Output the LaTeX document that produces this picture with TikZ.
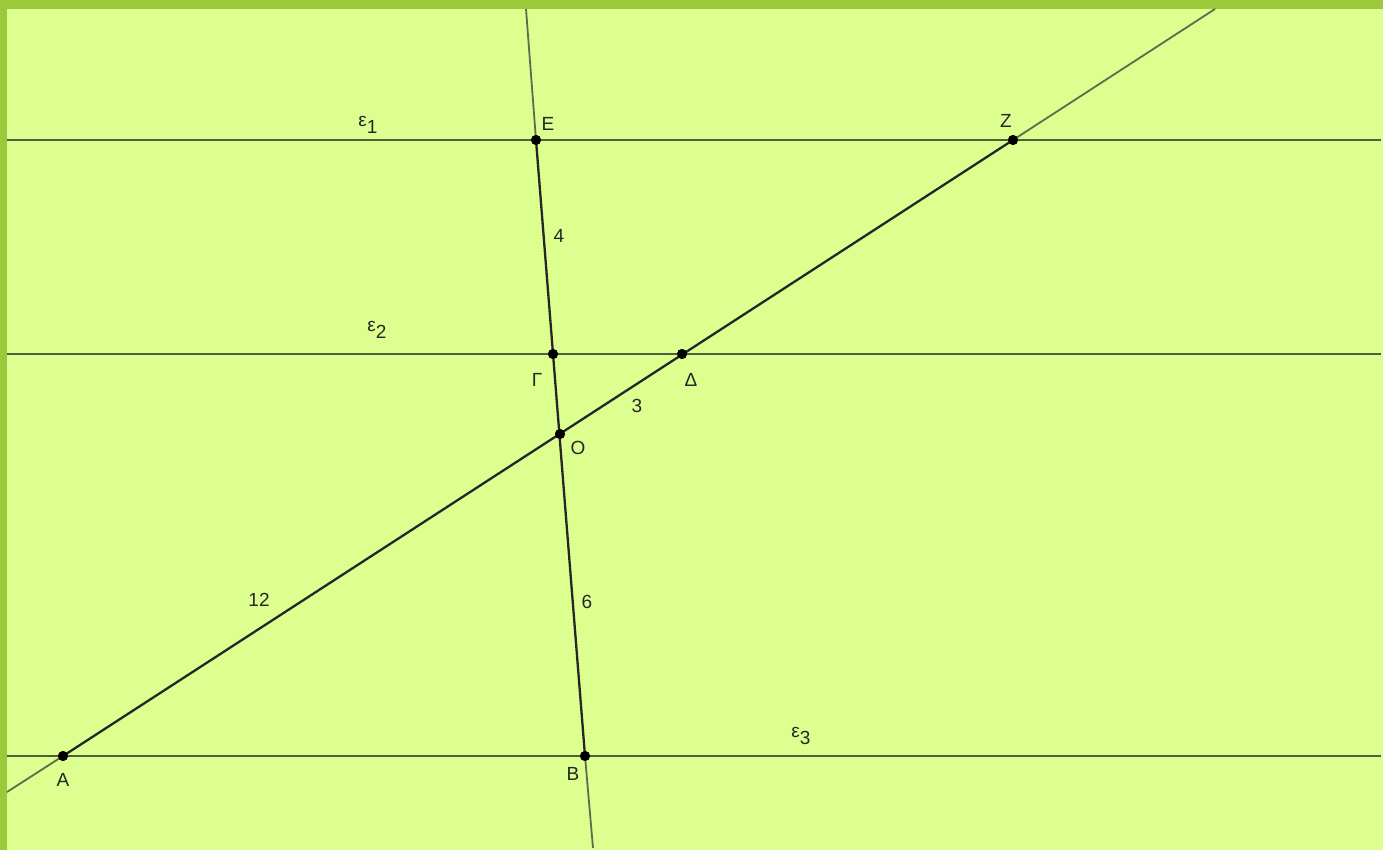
\documentclass[tikz,border=0pt]{standalone}
\usepackage{fontspec}
\setmainfont{Liberation Sans}
\definecolor{bg}{RGB}{220,255,144}
\definecolor{frame}{RGB}{154,202,60}
\definecolor{lineg}{RGB}{80,95,55}
\definecolor{extg}{RGB}{95,108,75}
\begin{document}
\begin{tikzpicture}[x=1pt,y=-1pt,
  hline/.style={draw=lineg,line width=2.4pt},
  extline/.style={draw=extg,line width=1.8pt},
  seg/.style={draw=black!85,line width=2.3pt},
  pt/.style={circle,fill=black,inner sep=0pt,minimum size=10pt},
  lbl/.style={font=\fontsize{19}{21}\selectfont,text=black!85,inner sep=0pt}]
\fill[frame] (0,0) rectangle (1383,850);
\fill[bg] (7,9) rectangle (1383,850);
\useasboundingbox (0,0) rectangle (1383,850);
% line end points
\coordinate (e1L) at (7,140);   \coordinate (e1R) at (1381,140);
\coordinate (e2L) at (7,354);   \coordinate (e2R) at (1381,354);
\coordinate (e3L) at (7,756);   \coordinate (e3R) at (1381,756);
\coordinate (tT) at (526,9);    \coordinate (tB) at (593,848);
\coordinate (dT) at (1215,9);   \coordinate (dB) at (7,792);
% points
\node[pt] (E) at (536,140) {};
\node[pt] (G) at (553,354) {};
\node[pt] (O) at (560,434) {};
\node[pt] (B) at (585,756) {};
\node[pt] (A) at (63,756) {};
\node[pt] (D) at (682,354) {};
\node[pt] (Z) at (1013,140) {};
% lines
\draw[hline] (e1L) -- (e1R);
\draw[hline] (e2L) -- (e2R);
\draw[hline] (e3L) -- (e3R);
\draw[extline] (tT) -- (E.center);
\draw[extline] (B.center) -- (tB);
\draw[extline] (dT) -- (Z.center);
\draw[extline] (A.center) -- (dB);
\draw[seg] (E.center) -- (B.center);
\draw[seg] (A.center) -- (Z.center);
% redraw points on top
\foreach \p in {E,G,O,B,A,D,Z} \fill[black] (\p) circle (5pt);
% labels
\node[lbl] (lE) at (548,124) {E};
\node[lbl] (lZ) at (1006,121) {Z};
\node[lbl] (lG) at (537,380) {Γ};
\node[lbl] (lD) at (691,380) {Δ};
\node[lbl] (lO) at (578,448) {O};
\node[lbl] (lA) at (63,780) {A};
\node[lbl] (lB) at (573,774) {B};
\node[lbl] (l4) at (559,236) {4};
\node[lbl] (l3) at (637,406) {3};
\node[lbl] (l12) at (259,600) {12};
\node[lbl] (l6) at (587,602) {6};
\node[lbl] (le1) at (368,125) {ε\raisebox{-7pt}{1}};
\node[lbl] (le2) at (377,330) {ε\raisebox{-7pt}{2}};
\node[lbl] (le3) at (801,736) {ε\raisebox{-7pt}{3}};
\end{tikzpicture}
\end{document}
